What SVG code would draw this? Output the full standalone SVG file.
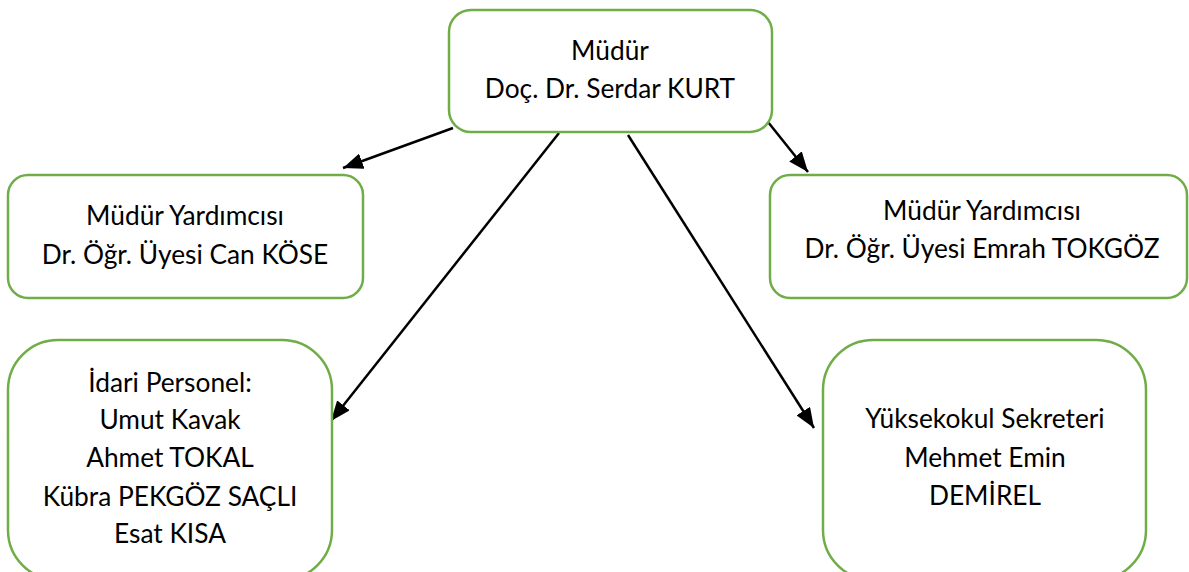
<svg xmlns="http://www.w3.org/2000/svg" width="1189" height="572" viewBox="0 0 1189 572">
<style>
.box{fill:#fff;stroke:#70AD47;stroke-width:2.5}
.t{font-family:Lato,"Liberation Sans",sans-serif;font-size:26.3px;fill:#000;text-anchor:middle}
.c{stroke:#000;stroke-width:2.5;fill:none;marker-end:url(#ah)}
</style>
<defs>
<marker id="ah" markerUnits="userSpaceOnUse" markerWidth="22" markerHeight="16" refX="20" refY="8" orient="auto">
<path d="M0,0 L20,8 L0,16 Z" fill="#000"/>
</marker>
</defs>
<rect width="1189" height="572" fill="#fff"/>
<g id="connectors">
<line class="c" x1="453" y1="128" x2="343" y2="168"/>
<line class="c" x1="559" y1="133" x2="331" y2="421"/>
<line class="c" x1="628" y1="135" x2="814" y2="428"/>
<line class="c" x1="768" y1="122" x2="808" y2="172"/>
</g>
<g id="mudur">
<rect class="box" x="449" y="10" width="323" height="122" rx="22"/>
<text class="t" x="610" y="60">Müdür</text>
<text class="t" x="610" y="98">Doç. Dr. Serdar KURT</text>
</g>
<g id="yardimci1">
<rect class="box" x="8" y="175" width="355" height="123" rx="20"/>
<text class="t" x="185" y="225">Müdür Yardımcısı</text>
<text class="t" x="185" y="264">Dr. Öğr. Üyesi Can KÖSE</text>
</g>
<g id="yardimci2">
<rect class="box" x="770" y="175" width="417" height="123" rx="20"/>
<text class="t" x="982" y="220">Müdür Yardımcısı</text>
<text class="t" x="982" y="258">Dr. Öğr. Üyesi Emrah TOKGÖZ</text>
</g>
<g id="idari">
<rect class="box" x="8" y="340" width="324" height="240" rx="50"/>
<text class="t" x="170" y="392">İdari Personel:</text>
<text class="t" x="170" y="429">Umut Kavak</text>
<text class="t" x="170" y="467">Ahmet TOKAL</text>
<text class="t" x="170" y="506">Kübra PEKGÖZ SAÇLI</text>
<text class="t" x="170" y="543">Esat KISA</text>
</g>
<g id="sekreter">
<rect class="box" x="823" y="340" width="323" height="240" rx="50"/>
<text class="t" x="985" y="428">Yüksekokul Sekreteri</text>
<text class="t" x="985" y="467">Mehmet Emin</text>
<text class="t" x="985" y="505">DEMİREL</text>
</g>
</svg>
